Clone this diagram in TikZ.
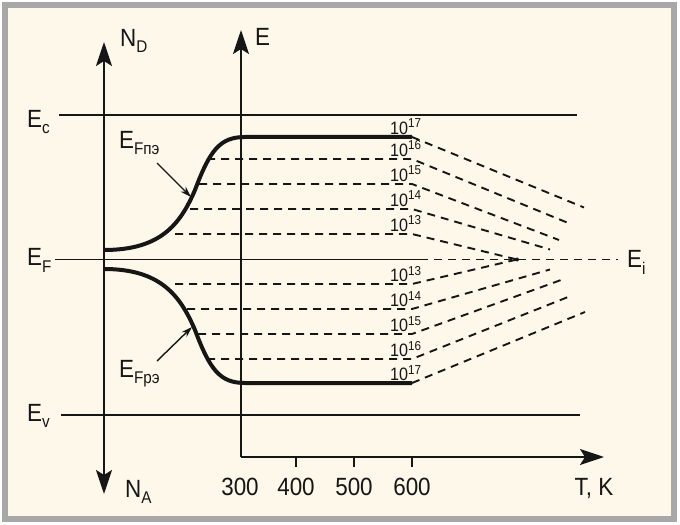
\documentclass[tikz,border=0pt]{standalone}
\usepackage{fontspec}
\setmainfont[FakeStretch=0.9]{Liberation Sans}
\usetikzlibrary{arrows.meta}
\definecolor{cream}{HTML}{FDF8EA}
\definecolor{framegray}{HTML}{A8A8A8}
\definecolor{ink}{HTML}{161616}
\newcommand\lsub[1]{\raisebox{-6bp}{\fontsize{17}{17}\selectfont #1}}
\newcommand\lsup[1]{\raisebox{6.5bp}{\fontsize{13}{13}\selectfont #1}}
\begin{document}
\begin{tikzpicture}[x=1bp,y=-1bp,
  axis/.style={draw=ink,line width=2.2bp,-{Stealth[length=24bp,width=16bp,inset=5bp]}},
  dblaxis/.style={draw=ink,line width=2.2bp,{Stealth[length=24bp,width=16bp,inset=5bp]}-{Stealth[length=24bp,width=16bp,inset=5bp]}},
  level/.style={draw=ink,line width=1.8bp},
  fermi/.style={draw=ink,line width=4bp,line join=round},
  dsh/.style={draw=ink,line width=1.9bp,dash pattern=on 8bp off 6bp},
  lbl/.style={text=ink,font=\fontsize{25}{25}\selectfont,inner sep=0pt},
  expo/.style={text=ink,font=\fontsize{18}{18}\selectfont,inner sep=0pt},
  pointer/.style={draw=ink,line width=1.4bp,-{Stealth[length=11bp,width=7bp]}},
  tick/.style={draw=ink,line width=1.8bp}
]
\useasboundingbox (0,0) rectangle (680,525);
\fill[white] (0,0) rectangle (680,525);
\draw[framegray,line width=6bp,fill=cream] (5,5.5) rectangle (674,518.5);

% band levels
\draw[level] (59,115) -- (577,115);
\draw[level] (61,415) -- (580,415);
\draw[level] (55,259.5) -- (420,259.5);
\draw[dsh] (420,259.5) -- (618,259.5);

% axes
\coordinate (O) at (241,457);
\draw[dblaxis] (104,494) -- (104,42);
\draw[axis] (O) -- (241,30);
\draw[axis] (O) -- (604,457);
\foreach \x in {296,354,412} \draw[tick] (\x,457) -- (\x,467);

% fermi level curves
\draw[fermi] (104,250) .. controls (160,250) and (180,225) .. (195,190)
  .. controls (210,150) and (220,137) .. (245,137) -- (412,137);
\draw[fermi] (104,269) .. controls (160,269) and (180,295) .. (195,330)
  .. controls (210,370) and (220,383) .. (245,383) -- (412,383);

% dashed levels
\coordinate (Ei) at (517,259.5);
\draw[dsh] (412,137) -- (584,207.5);
\foreach \y/\xs/\xe/\ye in {159/207/567/222.5,184/199/559/240,209/190/550/249.5,234/175/517/259.5,
  284/175/517/259.5,309/187/550/269.5,334/198/561/280,359/207/568/297}
  \draw[dsh] (\xs,\y) -- (412,\y) -- (\xe,\ye);
\draw[dsh] (412,383) -- (585,312);
\fill[ink] (Ei) circle (2bp);

% concentration labels
\foreach \y/\e in {137/17,159/16,184/15,209/14,234/13,284/13,309/14,334/15,359/16,383/17}
  \node[expo,anchor=base west] (n\y) at (390,\y-2.5) {10\lsup{\e}};

% text labels
\node[lbl,anchor=base west] (ec) at (27,128) {E\lsub{c}};
\node[lbl,anchor=base west] (ef) at (27,266) {E\lsub{F}};
\node[lbl,anchor=base west] (ev) at (27,421) {E\lsub{v}};
\node[lbl,anchor=base west] (nd) at (120,47) {N\lsub{D}};
\node[lbl,anchor=base west] (ea) at (255,46) {E};
\node[lbl,anchor=base west] (na) at (125,497) {N\lsub{A}};
\node[lbl,anchor=base west] (ei) at (627,268) {E\lsub{i}};
\node[lbl,anchor=base west] (efn) at (119,149) {E\lsub{Fпэ}};
\node[lbl,anchor=base west] (efp) at (119,377) {E\lsub{Fрэ}};
\node[lbl,anchor=base] (t300) at (240,495) {300};
\node[lbl,anchor=base] (t400) at (296,495) {400};
\node[lbl,anchor=base] (t500) at (354,495) {500};
\node[lbl,anchor=base] (t600) at (412,495) {600};
\node[lbl,anchor=base] (tk) at (594,495) {T, K};

% pointers
\coordinate (pn) at (191,197);
\coordinate (pp) at (192,327);
\draw[pointer] (157,163) -- (pn);
\draw[pointer] (157,361) -- (pp);
\end{tikzpicture}
\end{document}
